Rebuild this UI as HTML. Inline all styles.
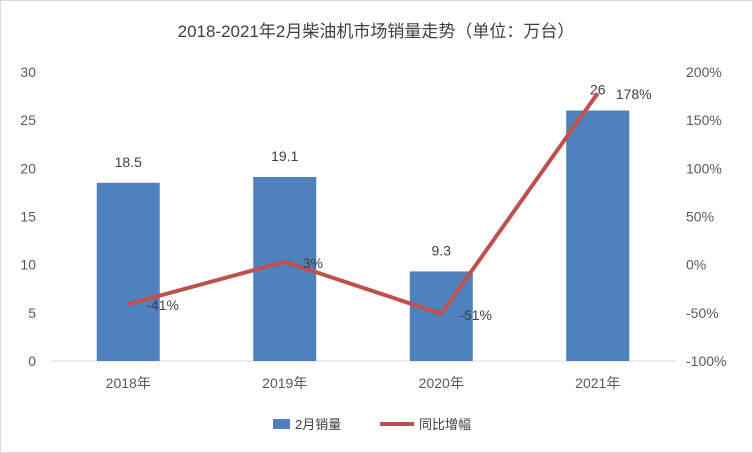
<!DOCTYPE html>
<html><head><meta charset="utf-8"><style>
body{margin:0;background:#fff;}
svg{display:block;font-family:"Liberation Sans","Noto Sans CJK SC",sans-serif;}
</style></head><body>
<svg id="c" width="753" height="453">
<rect x="0.5" y="0.5" width="752" height="452" fill="#fff" stroke="#d9d9d9"/>
<text x="376" y="37" text-anchor="middle" font-size="17" fill="#404040">2018-2021年2月柴油机市场销量走势（单位：万台）</text>
<g id="g"></g>
<g>
<rect x="273" y="419" width="17" height="10" fill="#4f81bd"/>
<text x="295" y="429" font-size="13" fill="#404040">2月销量</text>
<line x1="380" y1="424" x2="414" y2="424" stroke="#c0504d" stroke-width="4"/>
<text x="419" y="429" font-size="13" fill="#404040">同比增幅</text>
</g>
</svg>
<script>
const categories=["2018年","2019年","2020年","2021年"];
const sales=[18.5,19.1,9.3,26];
const growth=[-41,3,-51,178];
const leftTicks=[0,5,10,15,20,25,30];
const rightTicks=[-100,-50,0,50,100,150,200];
const NS="http://www.w3.org/2000/svg";
const g=document.getElementById('g');
const x0=50,x1=676,yTop=72,yBot=361;
const yL=v=>yBot-(v/30)*(yBot-yTop);
const yR=v=>yBot-((v+100)/300)*(yBot-yTop);
const band=(x1-x0)/categories.length;
const xC=i=>x0+band*(i+0.5);
function mk(t,a,txt){const e=document.createElementNS(NS,t);for(const k in a)e.setAttribute(k,a[k]);if(txt!==undefined)e.textContent=txt;g.appendChild(e);return e;}
leftTicks.forEach(v=>{const e=mk('text',{x:36,y:yL(v)+5,'text-anchor':'end','font-size':14,fill:'#595959'},v);

});
rightTicks.forEach(v=>{const e=mk('text',{x:686,y:yR(v)+5,'font-size':14,fill:'#595959'},v+'%');

});
const ax=mk('line',{x1:x0,x2:x1,y1:yBot,y2:yBot,stroke:'#d9d9d9'});


categories.forEach((c,i)=>{
const bw=63;
const b=mk('rect',{x:xC(i)-bw/2,y:yL(sales[i]),width:bw,height:yBot-yL(sales[i]),fill:'#4f81bd'});


const l=mk('text',{x:xC(i),y:yL(sales[i])-16,'text-anchor':'middle','font-size':14,fill:'#404040'},sales[i]);


const t=mk('text',{x:xC(i),y:yBot+27,'text-anchor':'middle','font-size':14,fill:'#595959'},c);


});
const pl=mk('polyline',{points:growth.map((v,i)=>xC(i)+','+yR(v)).join(' '),fill:'none',stroke:'#c0504d','stroke-width':4,'stroke-linejoin':'round'});


growth.forEach((v,i)=>{const t=mk('text',{x:xC(i)+18,y:yR(v)+6,'font-size':14,fill:'#404040'},v+'%');

});
</script>
</body></html>
